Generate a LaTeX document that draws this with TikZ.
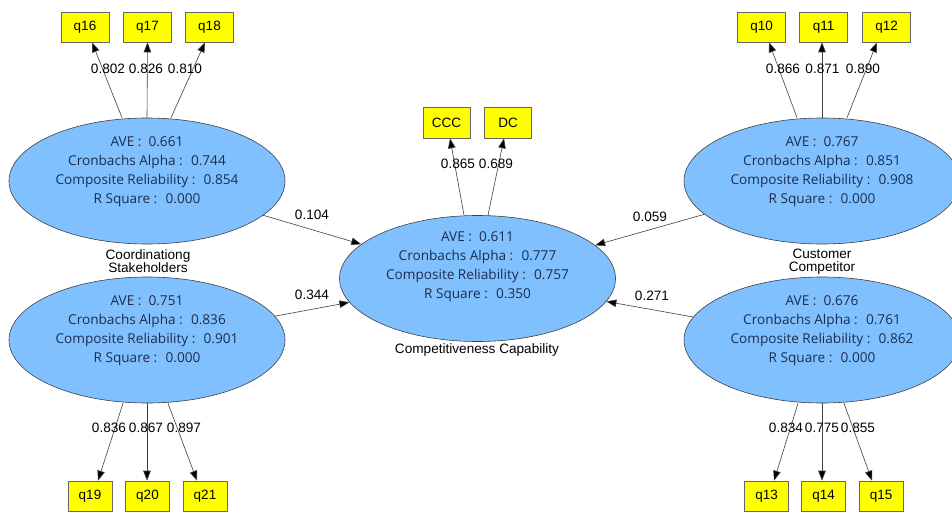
\documentclass[tikz,border=0pt]{standalone}
\usepackage{fontspec}
\setmainfont{Liberation Sans}
\newfontfamily\statfont{Open Sans}
\usetikzlibrary{shapes.geometric,arrows.meta}
\definecolor{lvfill}{HTML}{80C0FF}
\definecolor{lvtext}{HTML}{1C2E4E}
\definecolor{mvfill}{HTML}{FFFF00}
\definecolor{edge}{HTML}{404040}
\tikzset{
  latent/.style={ellipse, draw=edge, line width=0.6pt, fill=lvfill,
    minimum width=276pt, minimum height=126pt, inner sep=0pt},
  stats/.style={align=center, text=lvtext, font=\statfont\fontsize{13.6}{19}\selectfont, inner sep=0pt},
  manifest/.style={rectangle, draw=edge!80, line width=0.6pt, fill=mvfill,
    minimum width=48pt, minimum height=30pt, inner sep=0pt, font=\fontsize{13.5}{15}\selectfont},
  mansmall/.style={manifest, minimum width=44pt},
  coef/.style={font=\fontsize{13.6}{15}\selectfont, inner sep=0pt},
  lvname/.style={align=center, font=\fontsize{13.6}{13}\selectfont, inner sep=0pt},
  load/.style={draw=edge, line width=0.6pt, -{Triangle[length=10pt,width=7.5pt,fill=black]}},
}
\begin{document}
\begin{tikzpicture}[x=1pt,y=-1pt]
\useasboundingbox (0,0) rectangle (952,511);
\fill[white] (0,0) rectangle (952,511);
\clip (0,0) rectangle (952,511);

% latent variables
\node[latent] (cs)  at (147,181)   {};
\node[latent] (cs2) at (147,340)   {};
\node[latent] (cc)  at (477.5,278.5) {};
\node[latent] (cu)  at (822,181)   {};
\node[latent] (cu2) at (822,340)   {};

% quality statistics inside the ellipses
\node[stats] (st1) at (147,171.5) {AVE :~ 0.661\\Cronbachs Alpha :~ 0.744\\Composite Reliability :~ 0.854\\R Square :~ 0.000};
\node[stats] (st2) at (147,330.5) {AVE :~ 0.751\\Cronbachs Alpha :~ 0.836\\Composite Reliability :~ 0.901\\R Square :~ 0.000};
\node[stats] (st3) at (477.5,266.5) {AVE :~ 0.611\\Cronbachs Alpha :~ 0.777\\Composite Reliability :~ 0.757\\R Square :~ 0.350};
\node[stats] (st4) at (822,171.5) {AVE :~ 0.767\\Cronbachs Alpha :~ 0.851\\Composite Reliability :~ 0.908\\R Square :~ 0.000};
\node[stats] (st5) at (822,330.5) {AVE :~ 0.676\\Cronbachs Alpha :~ 0.761\\Composite Reliability :~ 0.862\\R Square :~ 0.000};

% construct names
\node[lvname] (n1) at (148,261.5) {Coordinationg\\Stakeholders};
\node[lvname] (n2) at (822,261.5) {Customer\\Competitor};
\node[lvname] (n3) at (477,350) {Competitiveness Capability};

% indicators
\node[manifest] (q16) at (85,27)    {q16};
\node[manifest] (q17) at (147.5,27) {q17};
\node[manifest] (q18) at (209.5,27) {q18};
\node[manifest] (q10) at (761.5,27) {q10};
\node[manifest] (q11) at (823.5,27) {q11};
\node[manifest] (q12) at (886.5,27) {q12};
\node[manifest,minimum width=47pt,minimum height=31pt] (ccc) at (446.5,122.5) {CCC};
\node[manifest,minimum width=47pt,minimum height=31pt] (dc)  at (508,122.5)   {DC};
\node[mansmall] (q19) at (90,496)    {q19};
\node[mansmall] (q20) at (147.5,496) {q20};
\node[mansmall] (q21) at (205,496)   {q21};
\node[mansmall] (q13) at (766.5,496) {q13};
\node[mansmall] (q14) at (823.5,496) {q14};
\node[mansmall] (q15) at (881,496)   {q15};

% outer loadings
\draw[load] ([xshift=-25pt]cs.north) -- ([xshift=7pt]q16.south);
\draw[load] (cs.north) -- (q17.south);
\draw[load] ([xshift=24pt]cs.north) -- ([xshift=-4.5pt]q18.south);
\draw[load] ([xshift=-25pt]cu.north) -- ([xshift=7.5pt]q10.south);
\draw[load] (cu.north) -- ([xshift=-1.5pt]q11.south);
\draw[load] ([xshift=25pt]cu.north) -- ([xshift=-9.5pt]q12.south);
\draw[load] ([xshift=-13.5pt]cc.north) -- ([xshift=3.5pt]ccc.south);
\draw[load] ([xshift=10.5pt]cc.north) -- ([xshift=-4pt]dc.south);
\draw[load] ([xshift=-24pt]cs2.south) -- ([xshift=8pt]q19.north);
\draw[load] (cs2.south) -- ([xshift=-0.5pt]q20.north);
\draw[load] ([xshift=21pt]cs2.south) -- ([xshift=-8pt]q21.north);
\draw[load] ([xshift=-24pt]cu2.south) -- ([xshift=7.5pt]q13.north);
\draw[load] (cu2.south) -- ([xshift=-1.5pt]q14.north);
\draw[load] ([xshift=22pt]cu2.south) -- ([xshift=-9pt]q15.north);

% path coefficients
\draw[load] (cs) -- (cc);
\draw[load] (cs2) -- (cc);
\draw[load] (cu) -- (cc);
\draw[load] (cu2) -- (cc);

% coefficient labels
\node[coef] (l16) at (108,69) {0.802};
\node[coef] (l17) at (146,69) {0.826};
\node[coef] (l18) at (185,69) {0.810};
\node[coef] (l10) at (783,69) {0.866};
\node[coef] (l11) at (822.5,69) {0.871};
\node[coef] (l12) at (863,69) {0.890};
\node[coef] (lccc) at (458,164) {0.865};
\node[coef] (ldc)  at (496,164) {0.689};
\node[coef] (l19) at (109,428) {0.836};
\node[coef] (l20) at (146,428) {0.867};
\node[coef] (l21) at (184,428) {0.897};
\node[coef] (l13) at (786,428) {0.834};
\node[coef] (l14) at (822,428) {0.775};
\node[coef] (l15) at (858,428) {0.855};
\node[coef] (p1) at (312,215) {0.104};
\node[coef] (p2) at (312,295) {0.344};
\node[coef] (p3) at (650,217) {0.059};
\node[coef] (p4) at (652,296) {0.271};
\end{tikzpicture}
\end{document}
